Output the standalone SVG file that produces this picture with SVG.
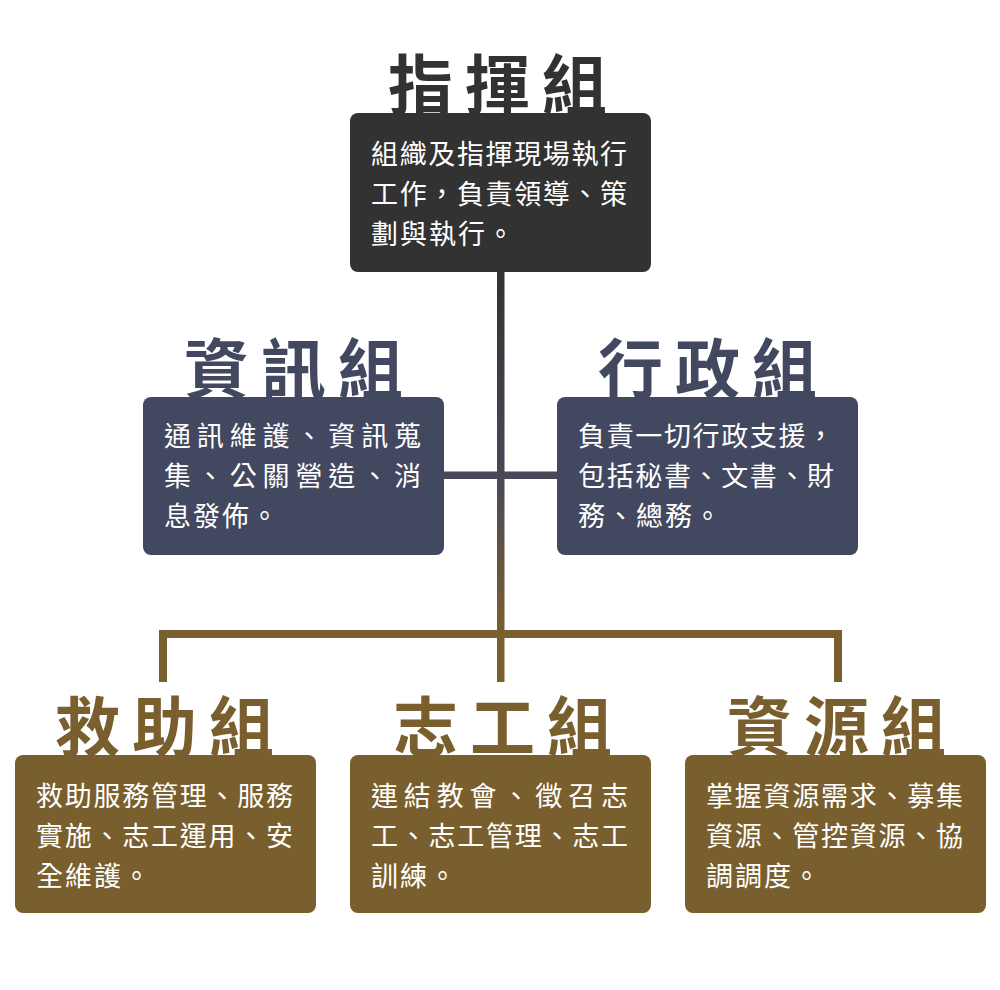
<svg xmlns="http://www.w3.org/2000/svg" width="1000" height="990" viewBox="0 0 1000 990">
<style>
.title{font-family:"Noto Sans CJK TC","Noto Sans CJK SC",sans-serif;font-weight:700;font-size:65px;letter-spacing:12px}
.body{font-family:"Noto Sans CJK TC","Noto Sans CJK SC",sans-serif;font-size:27px;fill:#ffffff;letter-spacing:2px}
.dark{fill:#333232}
.slate{fill:#424860}
.brown{fill:#7a5f2e}
</style>
<defs>
<linearGradient id="vgrad" gradientUnits="userSpaceOnUse" x1="0" y1="272" x2="0" y2="682">
<stop offset="0" stop-color="#333232"/>
<stop offset="0.5" stop-color="#4a4858"/>
<stop offset="0.88" stop-color="#7a5f2e"/>
<stop offset="1" stop-color="#7a5f2e"/>
</linearGradient>
</defs>
<rect width="1000" height="990" fill="#ffffff"/>
<g id="connectors">
<rect x="497" y="270" width="7.5" height="412" fill="url(#vgrad)"/>
<rect x="440" y="471.5" width="120" height="7.5" fill="#4a4858"/>
<rect x="159" y="630" width="683" height="8" class="brown"/>
<rect x="159" y="630" width="8" height="52" class="brown"/>
<rect x="834" y="630" width="8" height="52" class="brown"/>
</g>
<g id="command">
<text class="title dark" x="388" y="109">指揮組</text>
<rect x="350" y="113" width="301" height="159" rx="8" class="dark"/>
<text class="body" x="371" y="164" textLength="258" lengthAdjust="spacing">組織及指揮現場執行</text>
<text class="body" x="371" y="204" textLength="258" lengthAdjust="spacing">工作，負責領導、策</text>
<text class="body" x="371" y="244">劃與執行。</text>
</g>
<g id="info">
<text class="title slate" x="184" y="393">資訊組</text>
<rect x="143" y="397" width="301" height="158" rx="8" class="slate"/>
<text class="body" x="164" y="446" textLength="259" lengthAdjust="spacing">通訊維護、資訊蒐</text>
<text class="body" x="164" y="486" textLength="259" lengthAdjust="spacing">集、公關營造、消</text>
<text class="body" x="164" y="526">息發佈。</text>
</g>
<g id="admin">
<text class="title slate" x="598" y="393">行政組</text>
<rect x="557" y="397" width="301" height="158" rx="8" class="slate"/>
<text class="body" x="578" y="446" textLength="258" lengthAdjust="spacing">負責一切行政支援，</text>
<text class="body" x="578" y="486" textLength="258" lengthAdjust="spacing">包括秘書、文書、財</text>
<text class="body" x="578" y="526">務、總務。</text>
</g>
<g id="rescue">
<text class="title brown" x="55" y="751">救助組</text>
<rect x="15" y="755" width="301" height="158" rx="8" class="brown"/>
<text class="body" x="36" y="806" textLength="259" lengthAdjust="spacing">救助服務管理、服務</text>
<text class="body" x="36" y="846" textLength="259" lengthAdjust="spacing">實施、志工運用、安</text>
<text class="body" x="36" y="886">全維護。</text>
</g>
<g id="volunteer">
<text class="title brown" x="393" y="751">志工組</text>
<rect x="350" y="755" width="301" height="158" rx="8" class="brown"/>
<text class="body" x="371" y="806" textLength="259" lengthAdjust="spacing">連結教會、徵召志</text>
<text class="body" x="371" y="846" textLength="259" lengthAdjust="spacing">工、志工管理、志工</text>
<text class="body" x="371" y="886">訓練。</text>
</g>
<g id="resource">
<text class="title brown" x="727" y="751">資源組</text>
<rect x="685" y="755" width="301" height="158" rx="8" class="brown"/>
<text class="body" x="706" y="806" textLength="259" lengthAdjust="spacing">掌握資源需求、募集</text>
<text class="body" x="706" y="846" textLength="259" lengthAdjust="spacing">資源、管控資源、協</text>
<text class="body" x="706" y="886">調調度。</text>
</g>
</svg>
